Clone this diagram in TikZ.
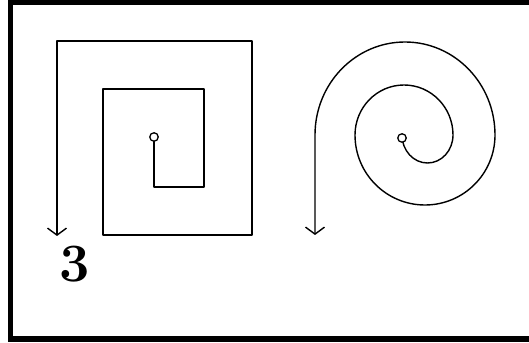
\documentclass[tikz,border=0pt]{standalone}
\usetikzlibrary{arrows.meta}
\begin{document}
\begin{tikzpicture}[x=1pt,y=1pt,
  ink/.style={line width=1.4pt, line join=round, line cap=round},
  vtip/.style={-{Straight Barb[length=7pt,width=19pt,line width=1.4pt]}},
  dot/.style={draw, line width=1.3pt, fill=white, circle, minimum size=8.5pt, inner sep=0pt}]
\useasboundingbox (0,0) rectangle (529,342);
% frame
\fill[black] (8,337) rectangle (529,342);
\fill[black] (8,0) rectangle (13,342);
\fill[black] (8,0) rectangle (529,6);
% square spiral
\coordinate (s0) at (154,201);
\coordinate (s1) at (154,155);
\coordinate (s2) at (204,155);
\coordinate (s3) at (204,253);
\coordinate (s4) at (103,253);
\coordinate (s5) at (103,107);
\coordinate (s6) at (252,107);
\coordinate (s7) at (252,301);
\coordinate (s8) at (57,301);
\coordinate (s9) at (57,106);
\draw[ink,vtip] (s0) -- (s1) -- (s2) -- (s3) -- (s4) -- (s5) -- (s6) -- (s7) -- (s8) -- (s9);
\node[dot] (sc) at (154,205) {};
% round spiral
\coordinate (r0) at (402,207);
\coordinate (r9) at (315,107);
\draw[ink,vtip] (r0) arc[start angle=180, end angle=360, x radius=25.5pt, y radius=28pt]
  arc[start angle=0, end angle=180, x radius=49pt, y radius=50pt]
  arc[start angle=180, end angle=360, x radius=70pt, y radius=70pt]
  arc[start angle=0, end angle=180, x radius=90pt, y radius=93pt]
  -- (r9);
\node[dot] (rc) at (402,204) {};
% label
\node[inner sep=0pt, font=\fontsize{54}{54}\selectfont\bfseries] (lbl) at (75,77.5) {3};
\end{tikzpicture}
\end{document}
